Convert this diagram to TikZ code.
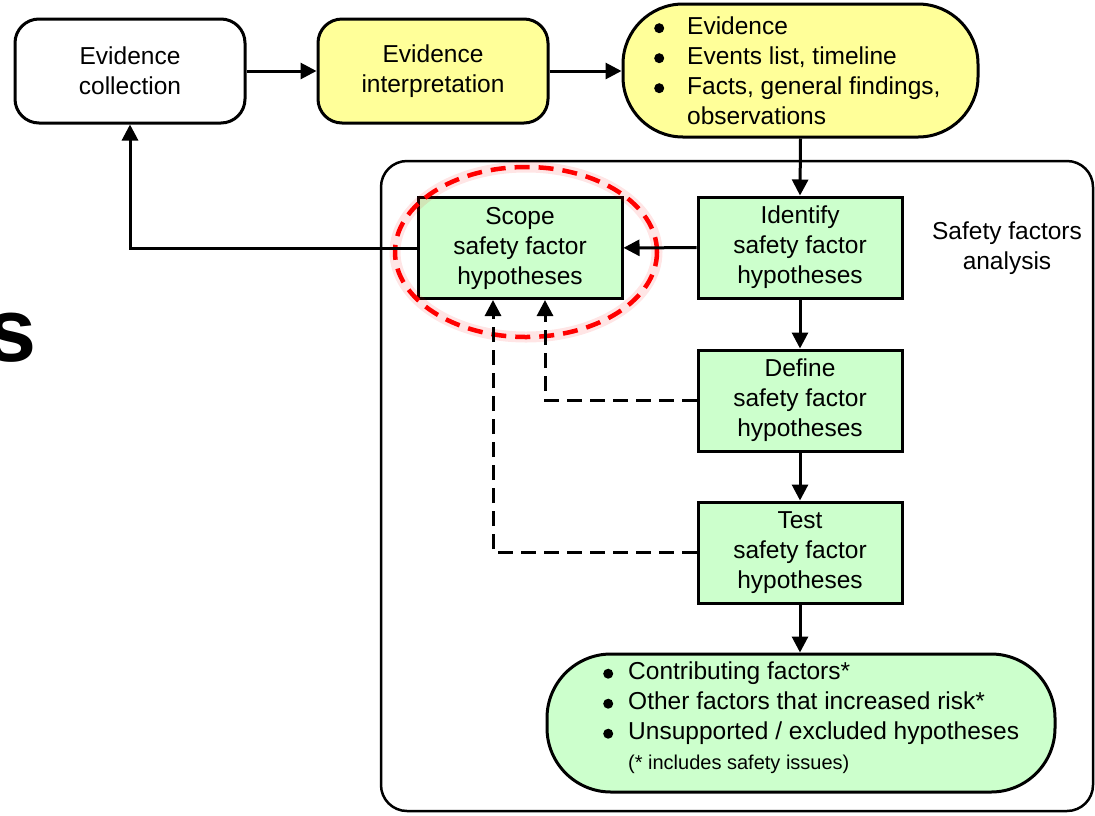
\documentclass[tikz,border=0pt]{standalone}
\usepackage{fontspec}
\setmainfont{Liberation Sans}
\usetikzlibrary{arrows.meta,shapes.geometric}
\definecolor{noteyellow}{HTML}{FFFF99}
\definecolor{stepgreen}{HTML}{CCFFCC}
\definecolor{ringred}{HTML}{FF0000}
% round list bullet
\newcommand\listdot{\raisebox{0.8pt}{\tikz\fill (0,0) circle[radius=5pt];}}

\begin{document}
\begin{tikzpicture}[x=1pt,y=-1pt,
  txt/.style={font=\fontsize{24.5}{30}\selectfont, align=center},
  rbox/.style={txt, draw, line width=3pt, rounded corners=24pt,
    minimum width=230pt, minimum height=104pt, inner sep=0pt},
  sbox/.style={txt, draw, fill=stepgreen, line width=3pt,
    minimum width=204pt, minimum height=101pt, inner sep=0pt},
  pill/.style={draw, line width=3pt, inner sep=0pt},
  listtxt/.style={font=\fontsize{24.5}{30}\selectfont, inner sep=0pt, anchor=west},
  arr/.style={line width=3pt, -{Triangle[length=16pt,width=16pt]}},
  dasharr/.style={arr, dash pattern=on 15pt off 8pt},
  ring/.style={ellipse, draw=ringred, minimum width=262pt, minimum height=170pt, inner sep=0pt},
]
\useasboundingbox (0,0) rectangle (1095,815);

% tail of a heading cut by the left edge
\node[font=\fontsize{90}{90}\selectfont\bfseries, inner sep=0pt, anchor=base west]
  (head) at (-14,361) {s};

% frame of the safety factors analysis
\node[draw, line width=2.5pt, rounded corners=26pt, minimum width=712pt,
  minimum height=650pt] (sfa) at (737,486) {};
\node[txt, inner sep=0pt] (sfalabel) at (1007,248) {Safety factors\\analysis};

% top row
\node[rbox] (ec) at (130,71) {Evidence\\collection};
\node[rbox, fill=noteyellow] (ei) at (433,71) {Evidence\\interpretation};
\node[pill, fill=noteyellow, rounded corners=60pt, minimum width=355pt,
  minimum height=133pt] (ev) at (800.5,70.5) {};
\node[listtxt] (evtxt) at (654,73) {%
  \begin{tabular}{@{}l@{\hspace{23pt}}l@{}}
  \listdot & Evidence\\
  \listdot & Events list, timeline\\
  \listdot & Facts, general findings,\\
           & observations
  \end{tabular}};

% analysis steps
\node[sbox] (sc) at (520,248) {Scope\\safety factor\\hypotheses};
\node[sbox] (id) at (800,247.5) {Identify\\safety factor\\hypotheses};
\node[sbox] (df) at (800,400.5) {Define\\safety factor\\hypotheses};
\node[sbox] (ts) at (800,552.5) {Test\\safety factor\\hypotheses};

% outcome
\node[pill, fill=stepgreen, rounded corners=64pt, minimum width=508pt,
  minimum height=138pt] (out) at (801,723) {};
\node[listtxt] (outtxt) at (603,718.5) {%
  \begin{tabular}{@{}l@{\hspace{15pt}}l@{}}
  \listdot & Contributing factors*\\
  \listdot & Other factors that increased risk*\\
  \listdot & Unsupported / excluded hypotheses\\
           & {\fontsize{20}{24}\selectfont(* includes safety issues)}
  \end{tabular}};

% highlight ring round the scope step
\node[ring, line width=11pt, opacity=0.1] (ringglow) at (526,252) {};
\node[ring, line width=4.5pt, dash pattern=on 15pt off 9pt] (ringline) at (526,252) {};

% connectors
\draw[arr] (ec) -- (ei);
\draw[arr] (ei.east) -- (ei.east -| ev.west);
\draw[arr] (ev.south) -- (id.north);
\draw[arr] (id) -- (sc);
\draw[arr] (sc.west) -| (ec.south);
\draw[arr] (id) -- (df);
\draw[arr] (df) -- (ts);
\draw[arr] (ts.south) -- (ts.south |- out.north);
\draw[dasharr] (df.west) -| ([xshift=25pt]sc.south);
\draw[dasharr] (ts.west) -| ([xshift=-27pt]sc.south);
\end{tikzpicture}
\end{document}
